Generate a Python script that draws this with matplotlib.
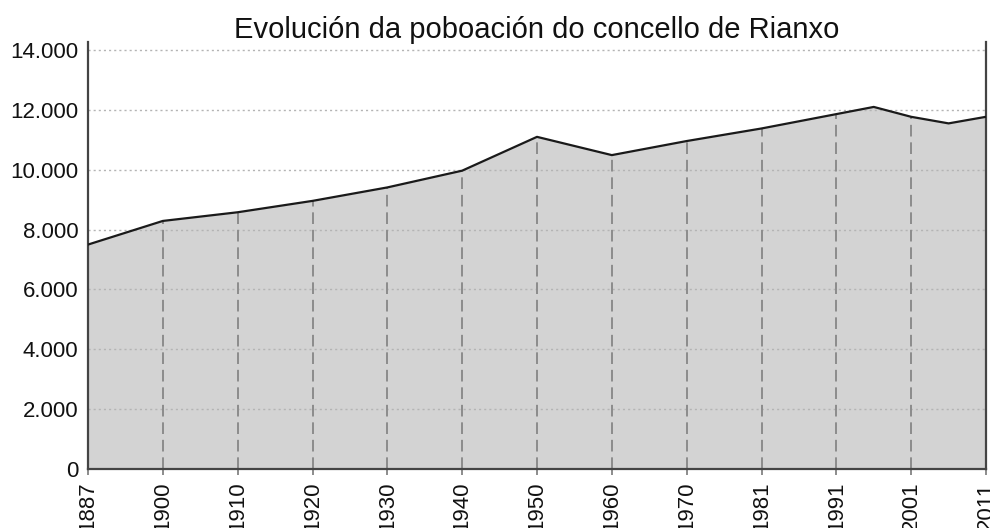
import matplotlib
matplotlib.use("Agg")
import matplotlib.pyplot as plt
import numpy as np

plt.rcParams["font.family"] = ["Liberation Sans", "DejaVu Sans"]

# census years shown on the axis (evenly spaced, like the original)
tick_years = [1887, 1900, 1910, 1920, 1930, 1940, 1950, 1960, 1970, 1981, 1991, 2001, 2011]
# data points (1996 and 2006 fall between labelled years)
years = [1887, 1900, 1910, 1920, 1930, 1940, 1950, 1960, 1970, 1981, 1991, 1996, 2001, 2006, 2011]
population = [7500, 8290, 8580, 8960, 9410, 9970, 11100, 10490, 10960, 11380, 11860, 12100, 11770, 11550, 11770]

# categorical-looking x scale: labelled years at 0..12
xpos = np.interp(years, tick_years, np.arange(len(tick_years)))
tick_pos = np.arange(len(tick_years))
tick_vals = np.interp(tick_years, years, population)

fig = plt.figure(figsize=(9.9, 5.28), dpi=100)
ax = fig.add_axes([88 / 990, 1 - 469 / 528, (986 - 88) / 990, (469 - 42) / 528])

ax.fill_between(xpos, 0, population, color="#d3d3d3", zorder=1, lw=0)
ax.plot(xpos, population, color="#1a1a1a", lw=1.6, zorder=4)
ax.vlines(tick_pos, 0, tick_vals, colors="#8c8c8c", linestyles=(0, (6, 3)), lw=1.4, zorder=2)

for yv in range(2000, 14001, 2000):
    ax.axhline(yv, color="#b4b4b4", lw=1.0, ls=(0, (1.5, 2.2)), zorder=1.5)

ax.set_xlim(0, 12)
ax.set_ylim(0, 14270)
ax.set_yticks(range(0, 14001, 2000))
ax.set_yticklabels([f"{v:,}".replace(",", ".") for v in range(0, 14001, 2000)])
ax.set_xticks(tick_pos)
ax.set_xticklabels([str(y) for y in tick_years], rotation=90, va="top")

ax.tick_params(axis="y", length=0, pad=7, labelsize=16, colors="#111111")
ax.tick_params(axis="x", length=4, width=1.4, color="#8c8c8c", pad=5, labelsize=16, labelcolor="#111111")

ax.spines["top"].set_visible(False)
for s in ("left", "right", "bottom"):
    ax.spines[s].set_color("#444444")
    ax.spines[s].set_linewidth(1.6)

fig.text(537 / 990, 1 - 30 / 528, "Evolución da poboación do concello de Rianxo",
         ha="center", va="center", fontsize=21, color="#111111")

fig.savefig("out.png", dpi=100)
